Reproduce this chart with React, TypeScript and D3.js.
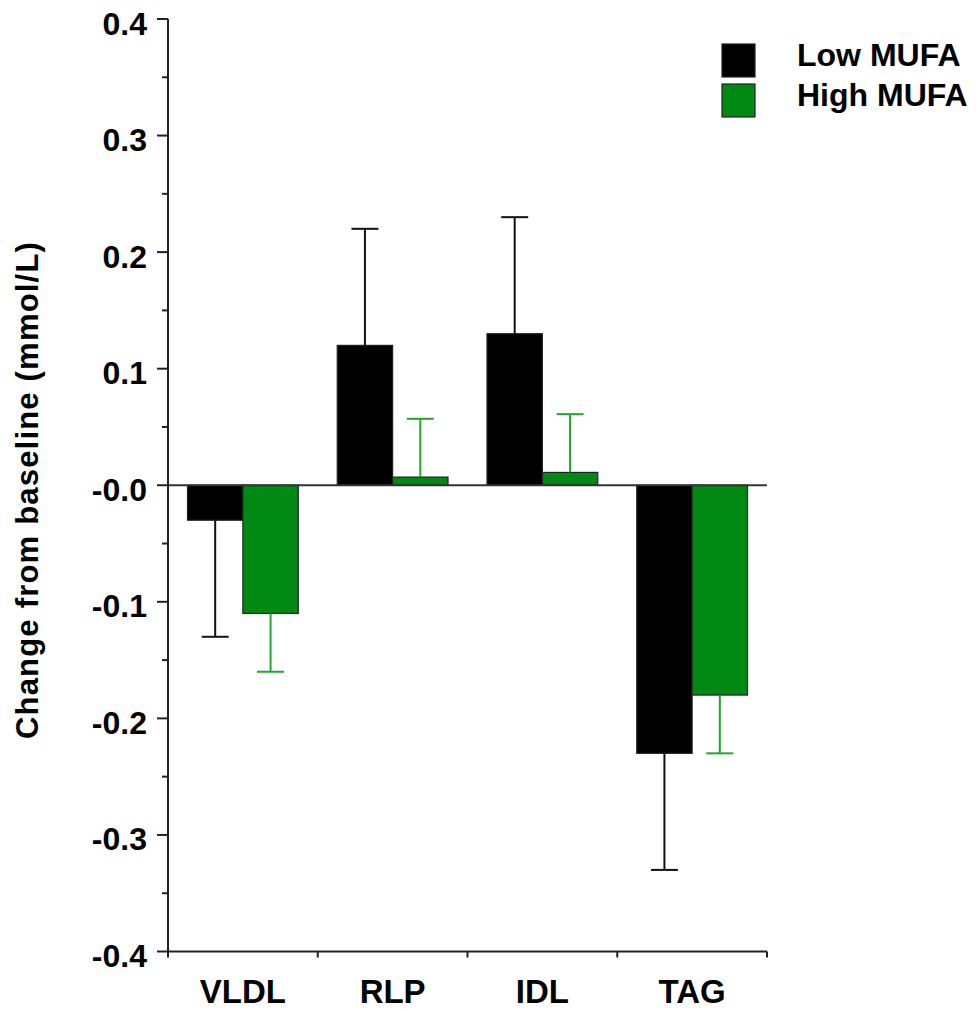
import React from "react";
import { scaleLinear, scaleBand, range } from "d3";

// data
const categories = ["VLDL", "RLP", "IDL", "TAG"];
const seriesNames = ["Low MUFA", "High MUFA"];
const lowMufa = [-0.03, 0.12, 0.13, -0.23];
const lowMufaSE = [0.1, 0.1, 0.1, 0.1];
const highMufa = [-0.11, 0.007, 0.011, -0.18];
const highMufaSE = [0.05, 0.05, 0.05, 0.05];
const yTicks = [0.4, 0.3, 0.2, 0.1, 0, -0.1, -0.2, -0.3, -0.4];

const FONT = "'Liberation Sans', Arial, Helvetica, sans-serif";
const BAR_COLORS = ["#000000", "#008a14"];
const ERR_COLORS = ["#111111", "#1fa82e"];

function App() {
  const width = 978,
    height = 1009;

  const y = scaleLinear().domain([-0.4, 0.4]).range([951.5, 19]);
  const x = scaleBand().domain(categories).range([168, 767]).padding(0);
  const inner = scaleBand()
    .domain(seriesNames)
    .range([19.5, x.bandwidth() - 19.5]);

  const series = [
    { name: seriesNames[0], values: lowMufa, se: lowMufaSE },
    { name: seriesNames[1], values: highMufa, se: highMufaSE },
  ];

  const fmt = (d: number) => (d <= 0 ? "-" : "") + Math.abs(d).toFixed(1);
  const minorTicks = range(-0.35, 0.4, 0.1);
  const y0 = y(0);
  const capW = 27;

  return (
    <svg
      width={width}
      height={height}
      style={{ position: "absolute", left: 0, top: 0, background: "#fff" }}
      fontFamily={FONT}
    >
      {/* bars */}
      {series.map((s, si) =>
        categories.map((c, ci) => {
          const v = s.values[ci];
          const bx = (x(c) as number) + (inner(s.name) as number);
          const bw = inner.bandwidth();
          const yv = y(v);
          return (
            <rect
              key={s.name + c}
              x={bx}
              y={Math.min(yv, y0)}
              width={bw}
              height={Math.abs(yv - y0)}
              fill={BAR_COLORS[si]}
              stroke="#222"
              strokeWidth={1.2}
            />
          );
        })
      )}

      {/* error bars */}
      {series.map((s, si) =>
        categories.map((c, ci) => {
          const v = s.values[ci];
          const end = v + Math.sign(v) * s.se[ci];
          const cx = (x(c) as number) + (inner(s.name) as number) + inner.bandwidth() / 2;
          return (
            <g key={"e" + s.name + c} stroke={ERR_COLORS[si]} strokeWidth={2}>
              <line x1={cx} x2={cx} y1={y(v)} y2={y(end)} />
              <line x1={cx - capW / 2} x2={cx + capW / 2} y1={y(end)} y2={y(end)} />
            </g>
          );
        })
      )}

      {/* zero line */}
      <line x1={168} x2={767} y1={y0} y2={y0} stroke="#333" strokeWidth={2} />

      {/* y axis */}
      <line x1={168} x2={168} y1={y(0.4)} y2={y(-0.4)} stroke="#222" strokeWidth={2} />
      {yTicks.map((t) => (
        <g key={t}>
          <line x1={157} x2={168} y1={y(t)} y2={y(t)} stroke="#222" strokeWidth={2} />
          <text
            x={147}
            y={y(t) + 15.5}
            textAnchor="end"
            fontSize={32}
            fontWeight="bold"
            fill="#000"
          >
            {fmt(t)}
          </text>
        </g>
      ))}
      {minorTicks.map((t) => (
        <line key={"m" + t} x1={162} x2={168} y1={y(t)} y2={y(t)} stroke="#222" strokeWidth={2} />
      ))}

      {/* x axis */}
      <line x1={168} x2={767} y1={y(-0.4)} y2={y(-0.4)} stroke="#222" strokeWidth={2} />
      {range(0, categories.length + 1).map((i) => {
        const tx = 168 + i * x.step();
        return (
          <line key={"xt" + i} x1={tx} x2={tx} y1={y(-0.4)} y2={y(-0.4) + 6} stroke="#222" strokeWidth={2} />
        );
      })}
      {categories.map((c) => (
        <text
          key={"l" + c}
          x={(x(c) as number) + x.bandwidth() / 2}
          y={1002.5}
          textAnchor="middle"
          fontSize={33}
          fontWeight="bold"
          fill="#000"
        >
          {c}
        </text>
      ))}

      {/* y axis title */}
      <text
        transform={`translate(38, 490) rotate(-90)`}
        textAnchor="middle"
        fontSize={31}
        fontWeight="bold"
        letterSpacing={1.2}
        fill="#000"
      >
        Change from baseline (mmol/L)
      </text>

      {/* legend */}
      {seriesNames.map((n, i) => (
        <g key={"lg" + n} transform={`translate(722, ${44 + i * 40})`}>
          <rect x={0} y={0} width={33} height={33} fill={BAR_COLORS[i]} stroke="#222" strokeWidth={1.2} />
          <text x={75} y={22 + i * -0.5} fontSize={32} fontWeight="bold" fill="#000">
            {n}
          </text>
        </g>
      ))}
    </svg>
  );
}

export default App;
